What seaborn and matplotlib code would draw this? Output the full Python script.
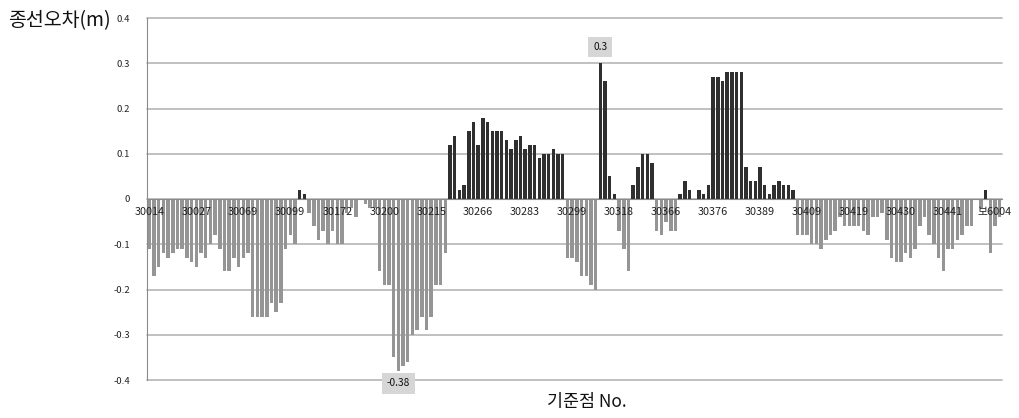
import numpy as np
import pandas as pd
import matplotlib
matplotlib.use("Agg")
import matplotlib.pyplot as plt
import seaborn as sns
from matplotlib.ticker import FixedLocator, MultipleLocator

# Closure error (m) per control point, in survey order
deviation = [
    -0.11, -0.17, -0.15, -0.12, -0.13, -0.12, -0.11, -0.11, -0.13, -0.14,
    -0.15, -0.12, -0.13, -0.10, -0.08, -0.11, -0.16, -0.16, -0.13, -0.15,
    -0.13, -0.12, -0.26, -0.26, -0.26, -0.26, -0.23, -0.25, -0.23, -0.11,
    -0.08, -0.10, 0.02, 0.01, -0.03, -0.06, -0.09, -0.07, -0.10, -0.07,
    -0.10, -0.10, -0.03, -0.02, -0.04, 0.00, -0.01, -0.02, -0.02, -0.16,
    -0.19, -0.19, -0.35, -0.38, -0.37, -0.36, -0.30, -0.29, -0.26, -0.29,
    -0.26, -0.19, -0.19, -0.12, 0.12, 0.14, 0.02, 0.03, 0.15, 0.17,
    0.12, 0.18, 0.17, 0.15, 0.15, 0.15, 0.13, 0.11, 0.13, 0.14,
    0.11, 0.12, 0.12, 0.09, 0.10, 0.10, 0.11, 0.10, 0.10, -0.13,
    -0.13, -0.14, -0.17, -0.17, -0.19, -0.20, 0.30, 0.26, 0.05, 0.01,
    -0.07, -0.11, -0.16, 0.03, 0.07, 0.10, 0.10, 0.08, -0.07, -0.08,
    -0.05, -0.07, -0.07, 0.01, 0.04, 0.02, 0.00, 0.02, 0.01, 0.03,
    0.27, 0.27, 0.26, 0.28, 0.28, 0.28, 0.28, 0.07, 0.04, 0.04,
    0.07, 0.03, 0.01, 0.03, 0.04, 0.03, 0.03, 0.02, -0.08, -0.08,
    -0.08, -0.10, -0.10, -0.11, -0.09, -0.08, -0.07, -0.04, -0.06, -0.06,
    -0.06, -0.06, -0.07, -0.08, -0.04, -0.04, -0.03, -0.09, -0.13, -0.14,
    -0.14, -0.12, -0.13, -0.11, -0.06, -0.04, -0.08, -0.10, -0.13, -0.16,
    -0.11, -0.11, -0.09, -0.08, -0.06, -0.06, 0.00, -0.02, 0.02, -0.12,
    -0.06, -0.04,
]

# Point names shown along the axis (every tenth point)
tick_labels = [
    "30014", "30027", "30069", "30099", "30172", "30200", "30215", "30266",
    "30283", "30299", "30318", "30366", "30376", "30389", "30409", "30419",
    "30430", "30441", "보6004",
]
label_step = 10

y_ticks = [-0.4, -0.3, -0.2, -0.1, 0.0, 0.1, 0.2, 0.3, 0.4]
y_tick_labels = ["-0.4", "-0.3", "-0.2", "-0.1", "0", "0.1", "0.2", "0.3", "0.4"]

# Points whose value is written next to the bar
highlighted = [96, 53]

sns.set_style("white")
plt.rcParams["font.family"] = ["Noto Sans CJK KR", "DejaVu Sans"]

df = pd.DataFrame({"pos": np.arange(len(deviation)), "value": deviation})
df["sign"] = np.where(df["value"] >= 0, "plus", "minus")

W, H = 1019, 418
fig = plt.figure(figsize=(W / 100, H / 100), dpi=100)
ax = fig.add_axes([147 / W, 1 - 380 / H, 855 / W, 362 / H])
ax.set_axisbelow(False)

for y in y_ticks:
    ax.axhline(y, color="#b5b5b5", lw=1.2, zorder=0, clip_on=False)

sns.barplot(
    data=df, x="pos", y="value", hue="sign",
    palette={"plus": "#2f2f2f", "minus": "#959595"},
    dodge=False, width=0.74, saturation=1, errorbar=None,
    legend=False, ax=ax, zorder=2, linewidth=0,
)

n = len(deviation)
ax.set_xlim(-0.5, n - 0.5)
ax.set_ylim(-0.4, 0.4)
ax.set_xlabel("")
ax.set_ylabel("")

# category axis sits on the zero line
ax.spines["top"].set_visible(False)
ax.spines["right"].set_visible(False)
ax.spines["bottom"].set_position(("data", 0))
ax.spines["bottom"].set_color("#8a8a8a")
ax.spines["left"].set_color("#8a8a8a")

label_pos = list(range(0, n, label_step))[: len(tick_labels)]
ax.xaxis.set_major_locator(FixedLocator(label_pos))
ax.set_xticklabels(tick_labels, fontsize=7.8, color="#222222")
ax.xaxis.set_minor_locator(FixedLocator(np.arange(0.5, n - 0.5, 1.0)))
ax.tick_params(axis="x", which="major", length=0, pad=6)
ax.tick_params(axis="x", which="minor", length=2.5, width=0.8,
               color="#8a8a8a", direction="out")

ax.yaxis.set_major_locator(FixedLocator(y_ticks))
ax.set_yticklabels(y_tick_labels, fontsize=6.8, color="#222222")
ax.yaxis.set_minor_locator(MultipleLocator(0.01))
ax.tick_params(axis="y", which="major", length=4, width=0.8,
               color="#8a8a8a", direction="out", pad=8)
ax.tick_params(axis="y", which="minor", length=2.5, width=0.6,
               color="#8a8a8a", direction="out")

for idx in highlighted:
    v = deviation[idx]
    offset = 11.5 if v >= 0 else -9
    ax.annotate(
        f"{v:g}", xy=(idx, v), xytext=(0, offset), textcoords="offset points",
        ha="center", va="center", fontsize=7.3, color="#111111",
        bbox=dict(boxstyle="square,pad=0.5", fc="#d6d6d6", ec="none"),
        annotation_clip=False, zorder=5,
    )

fig.text(8 / W, 1 - 21 / H, "종선오차(m)", fontsize=14, color="#111111",
         ha="left", va="center")
fig.text(587 / W, 1 - 402 / H, "기준점 No.", fontsize=12.5, color="#111111",
         ha="center", va="center")

fig.savefig("out.png", dpi=100)
